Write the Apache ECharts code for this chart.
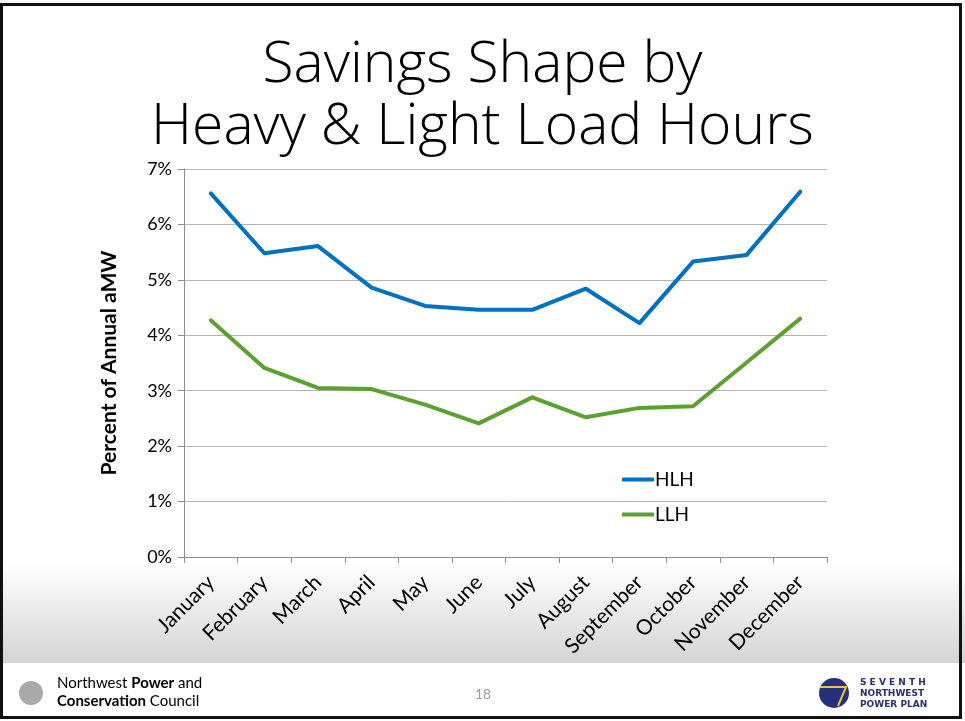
<!DOCTYPE html>
<html>
<head>
<meta charset="utf-8">
<script src="https://cdn.jsdelivr.net/npm/echarts@6/dist/echarts.min.js"></script>
<style>
  html, body { margin: 0; padding: 0; background: #fff; }
  #chart { width: 965px; height: 721px; }
</style>
</head>
<body>
<div id="chart"></div>
<script>
const months = ['January', 'February', 'March', 'April', 'May', 'June',
  'July', 'August', 'September', 'October', 'November', 'December'];
// percent of annual aMW
const hlh = [6.56, 5.48, 5.61, 4.86, 4.53, 4.46, 4.46, 4.84, 4.22, 5.33, 5.45, 6.59];
const llh = [4.27, 3.41, 3.05, 3.03, 2.75, 2.41, 2.88, 2.52, 2.69, 2.72, 3.51, 4.30];
const yTicks = [0, 1, 2, 3, 4, 5, 6, 7];

const chart = echarts.init(document.getElementById('chart'));

const option = {
  backgroundColor: '#fff',
  animation: false,
  title: {
    text: 'Savings Shape by\nHeavy & Light Load Hours',
    left: 'center',
    top: 30,
    textStyle: {
      fontFamily: 'Open Sans',
      fontWeight: 300,
      fontSize: 57,
      lineHeight: 62,
      color: '#000'
    }
  },
  legend: {
    orient: 'vertical',
    left: 617,
    top: 465,
    itemGap: 16,
    itemWidth: 32,
    itemHeight: 4,
    icon: 'roundRect',
    textStyle: { fontFamily: 'Lato', fontSize: 19, color: '#000', padding: [0, 0, 0, -4] },
    data: ['HLH', 'LLH']
  },
  grid: { left: 184, right: 138, top: 169, bottom: 164 },
  xAxis: {
    type: 'category',
    data: months,
    boundaryGap: true,
    axisLine: { lineStyle: { color: '#8c8c8c', width: 1 } },
    axisTick: { show: true, length: 6, lineStyle: { color: '#8c8c8c' } },
    axisLabel: {
      rotate: 45,
      margin: 22,
      interval: 0,
      fontFamily: 'Lato',
      fontSize: 21,
      color: '#000'
    }
  },
  yAxis: {
    type: 'value',
    min: 0,
    max: 7,
    interval: 1,
    name: 'Percent of Annual aMW',
    nameLocation: 'middle',
    nameGap: 64,
    nameTextStyle: { fontFamily: 'Lato', fontWeight: 'bold', fontSize: 21, color: '#000' },
    axisLine: { show: true, lineStyle: { color: '#8c8c8c' } },
    axisTick: { show: true, length: 6, lineStyle: { color: '#8c8c8c' } },
    splitLine: { lineStyle: { color: '#b3b3b3', width: 1 } },
    axisLabel: {
      margin: 12,
      fontFamily: 'Lato',
      fontSize: 18,
      color: '#000',
      formatter: v => yTicks.includes(v) ? v + '%' : ''
    }
  },
  series: [
    {
      name: 'HLH',
      type: 'line',
      data: hlh,
      symbol: 'none',
      lineStyle: { color: '#0070c0', width: 4, cap: 'round', join: 'round' },
      itemStyle: { color: '#0070c0' },
      z: 3
    },
    {
      name: 'LLH',
      type: 'line',
      data: llh,
      symbol: 'none',
      lineStyle: { color: '#5aa130', width: 4, cap: 'round', join: 'round' },
      itemStyle: { color: '#5aa130' },
      z: 3
    }
  ],
  graphic: [
    // grey band behind the month labels
    {
      type: 'rect', z: -10, silent: true,
      shape: { x: 0, y: 562, width: 965, height: 101 },
      style: {
        fill: new echarts.graphic.LinearGradient(0, 0, 0, 1, [
          { offset: 0, color: '#ffffff' },
          { offset: 1, color: '#d4d4d4' }
        ])
      }
    },
    // slide border
    {
      type: 'rect', z: 100, silent: true,
      shape: { x: 1.5, y: 4.5, width: 959, height: 713 },
      style: { fill: 'none', stroke: '#111', lineWidth: 3 }
    },
    // left footer logo
    {
      type: 'circle', silent: true,
      shape: { cx: 31, cy: 693, r: 12 },
      style: { fill: '#a9a9a9' }
    },
    {
      type: 'text', silent: true,
      left: 57, top: 676,
      style: {
        text: '{l|Northwest }{b|Power}{l| and}\n{b|Conservation}{l| Council}',
        rich: {
          l: { fontFamily: 'Lato', fontSize: 15, color: '#7a7a7a', lineHeight: 18 },
          b: { fontFamily: 'Lato', fontSize: 15, fontWeight: 'bold', color: '#6b6b6b', lineHeight: 18 }
        }
      }
    },
    {
      type: 'text', silent: true,
      left: 475, top: 687,
      style: { text: '18', fontFamily: 'Lato', fontSize: 14, fill: '#9a9a9a' }
    },
    // right footer logo
    {
      type: 'circle', silent: true,
      shape: { cx: 834, cy: 693, r: 15 },
      style: { fill: '#27307a' }
    },
    {
      type: 'polyline', silent: true,
      shape: { points: [[820, 687], [846, 687], [838, 706]] },
      style: { stroke: '#e3c841', lineWidth: 2, fill: 'none' }
    },
    {
      type: 'text', silent: true,
      left: 860, top: 677,
      style: {
        text: 'S E V E N T H\nNORTHWEST\nPOWER PLAN',
        fontFamily: 'DejaVu Sans',
        fontWeight: 'bold',
        fontSize: 9,
        lineHeight: 11,
        fill: '#27307a'
      }
    }
  ]
};

chart.setOption(option);
</script>
</body>
</html>
